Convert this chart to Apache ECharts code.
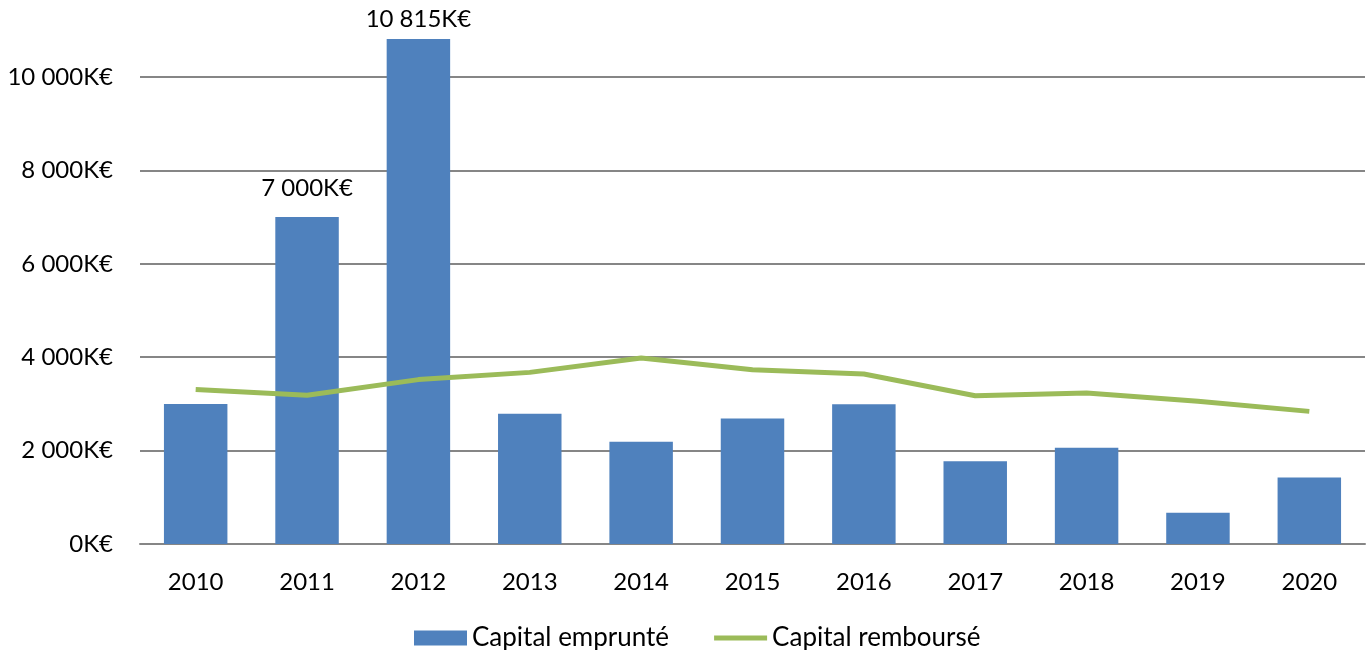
<!DOCTYPE html>
<html>
<head>
<meta charset="utf-8">
<script src="https://cdn.jsdelivr.net/npm/echarts@6/dist/echarts.min.js"></script>
<style>html,body{margin:0;padding:0;background:#fff}#c{width:1370px;height:650px}</style>
</head>
<body>
<div id="c"></div>
<script>
const years = ['2010','2011','2012','2013','2014','2015','2016','2017','2018','2019','2020'];
const capitalEmprunte = [3000, 7000, 10815, 2790, 2190, 2690, 2990, 1770, 2060, 670, 1425];
const capitalRembourse = [3310, 3185, 3520, 3675, 3985, 3730, 3640, 3175, 3235, 3055, 2840];
const labelledYears = ['2011', '2012'];
const yTicks = [0, 2000, 4000, 6000, 8000, 10000];

const FONT = 'Lato';
function fmt(v){ return String(Math.round(v)).replace(/\B(?=(\d{3})+(?!\d))/g, ' ') + 'K€'; }

const barData = capitalEmprunte.map((v, i) => ({
  value: v,
  label: {
    show: labelledYears.indexOf(years[i]) >= 0,
    distance: years[i] === '2012' ? 8 : 17
  }
}));

const chart = echarts.init(document.getElementById('c'), null, {renderer: 'canvas'});
chart.setOption({
  animation: false,
  backgroundColor: '#fff',
  textStyle: {fontFamily: FONT},
  grid: {left: 140, right: 5, top: 77, bottom: 106, containLabel: false},
  legend: {
    top: 624,
    left: 414,
    padding: 0,
    itemWidth: 53,
    itemHeight: 15,
    itemGap: 45,
    textStyle: {fontFamily: FONT, fontSize: 26, lineHeight: 28, color: '#000'},
    data: [
      {name: 'Capital emprunté', icon: 'rect'},
      {name: 'Capital remboursé', icon: 'path://M0,0 L53,0 L53,5 L0,5 Z'}
    ]
  },
  xAxis: {
    type: 'category',
    data: years,
    axisLine: {show: true, lineStyle: {color: '#868686', width: 2}},
    axisTick: {show: false},
    axisLabel: {fontFamily: FONT, fontSize: 24, color: '#000', margin: 26}
  },
  yAxis: {
    type: 'value',
    min: yTicks[0],
    max: yTicks[yTicks.length - 1],
    interval: yTicks[1] - yTicks[0],
    axisLine: {show: false},
    axisTick: {show: false},
    splitLine: {lineStyle: {color: '#868686', width: 2}},
    axisLabel: {fontFamily: FONT, fontSize: 24, color: '#000', margin: 27, formatter: fmt}
  },
  series: [
    {
      name: 'Capital emprunté',
      type: 'bar',
      data: barData,
      clip: false,
      barWidth: '57%',
      itemStyle: {color: '#4F81BD'},
      label: {
        position: 'top',
        fontFamily: FONT,
        fontSize: 24,
        color: '#000',
        formatter: p => fmt(p.value)
      }
    },
    {
      name: 'Capital remboursé',
      type: 'line',
      data: capitalRembourse,
      symbol: 'none',
      clip: false,
      lineStyle: {color: '#9BBB59', width: 5},
      itemStyle: {color: '#9BBB59'},
      z: 3
    }
  ]
});
</script>
</body>
</html>
